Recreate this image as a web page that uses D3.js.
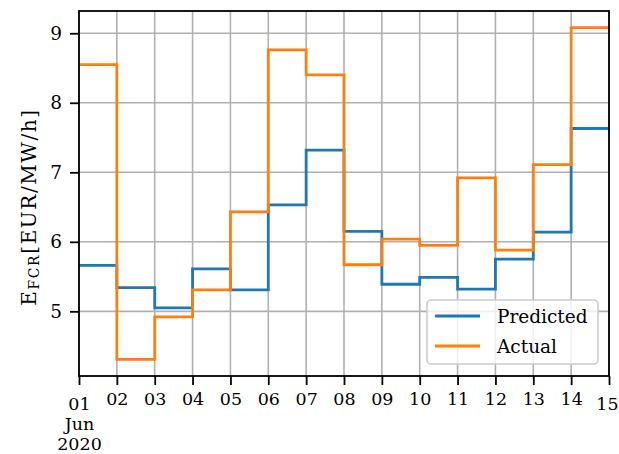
<!DOCTYPE html>
<html>
<head>
<meta charset="utf-8">
<script src="https://cdn.jsdelivr.net/npm/d3@7"></script>
<style>
  html, body { margin: 0; padding: 0; background: #fff; }
  svg { display: block; }
  text { font-family: "DejaVu Serif", "Liberation Serif", serif; fill: #000; }
</style>
</head>
<body>
<svg id="chart" width="619" height="454"></svg>
<script>
// Daily FCR energy prices, 1–14 June 2020 (one value per day, held until the next day)
const days = ["2020-06-01","2020-06-02","2020-06-03","2020-06-04","2020-06-05","2020-06-06","2020-06-07",
              "2020-06-08","2020-06-09","2020-06-10","2020-06-11","2020-06-12","2020-06-13","2020-06-14"];
const predicted = [5.66, 5.34, 5.05, 5.61, 5.31, 6.53, 7.32, 6.15, 5.39, 5.49, 5.32, 5.75, 6.14, 7.63];
const actual    = [8.55, 4.31, 4.92, 5.31, 6.43, 8.76, 8.40, 5.67, 6.04, 5.95, 6.92, 5.88, 7.11, 9.08];
const yTicks = [5, 6, 7, 8, 9];
const xTickLabels = ["01","02","03","04","05","06","07","08","09","10","11","12","13","14","15"];
const seriesNames = ["Predicted", "Actual"];
const seriesColors = ["#1f77b4", "#ff7f0e"];

const parse = d3.utcParse("%Y-%m-%d");
const dates = days.map(parse);
const endDate = d3.utcDay.offset(dates[dates.length - 1], 1);

const m = { left: 79, right: 609, top: 11, bottom: 376 };
const svg = d3.select("#chart");

const x = d3.scaleUtc().domain([dates[0], endDate]).range([m.left, m.right]);
const y = d3.scaleLinear().domain([4.07, 9.32]).range([m.bottom, m.top]);

const xTickDates = d3.utcDay.range(dates[0], d3.utcDay.offset(endDate, 1));

// grid
const grid = svg.append("g").attr("stroke", "#b0b0b0").attr("stroke-width", 1.6);
grid.selectAll("line.vx").data(xTickDates).join("line")
  .attr("x1", d => x(d)).attr("x2", d => x(d)).attr("y1", m.top).attr("y2", m.bottom);
grid.selectAll("line.hy").data(yTicks).join("line")
  .attr("x1", m.left).attr("x2", m.right).attr("y1", d => y(d)).attr("y2", d => y(d));

// step lines
const line = d3.line().x(d => x(d[0])).y(d => y(d[1])).curve(d3.curveStepAfter);
[predicted, actual].forEach((vals, i) => {
  const pts = dates.map((d, k) => [d, vals[k]]);
  pts.push([endDate, vals[vals.length - 1]]);
  svg.append("path").datum(pts)
    .attr("d", line)
    .attr("fill", "none")
    .attr("stroke", seriesColors[i])
    .attr("stroke-width", 2.8)
    .attr("stroke-linejoin", "miter")
    .attr("stroke-linecap", "butt");
});

// frame
svg.append("rect")
  .attr("x", m.left).attr("y", m.top)
  .attr("width", m.right - m.left).attr("height", m.bottom - m.top)
  .attr("fill", "none").attr("stroke", "#000").attr("stroke-width", 1.8);

// y axis
const yAxis = d3.axisLeft(y).tickValues(yTicks).tickSize(9).tickPadding(8).tickFormat(d3.format("d"));
const gy = svg.append("g").attr("transform", `translate(${m.left},0)`).call(yAxis);
gy.select(".domain").remove();
gy.selectAll(".tick line").attr("stroke", "#000").attr("stroke-width", 1.8);
gy.selectAll(".tick text").attr("font-size", 18.5).attr("font-family", "DejaVu Serif");

// x axis
const lastIdx = xTickDates.length - 1;
const xAxis = d3.axisBottom(x).tickValues(xTickDates).tickSize(9).tickFormat((d, i) => xTickLabels[i]);
const gx = svg.append("g").attr("transform", `translate(0,${m.bottom})`).call(xAxis);
gx.select(".domain").remove();
gx.selectAll(".tick line").attr("stroke", "#000").attr("stroke-width", 1.8);
gx.selectAll(".tick text")
  .attr("font-size", 17.5).attr("font-family", "DejaVu Serif")
  .attr("dy", null)
  .attr("x", (d, i) => i === lastIdx ? -2 : 0)
  .attr("y", (d, i) => (i === 0 || i === lastIdx) ? 34 : 29);
// month / year offset under the first tick
const first = gx.select(".tick");
first.append("text").attr("y", 54).attr("text-anchor", "middle")
  .attr("font-size", 17.5).attr("font-family", "DejaVu Serif").attr("fill", "#000").text("Jun");
first.append("text").attr("y", 74).attr("text-anchor", "middle")
  .attr("font-size", 17.5).attr("font-family", "DejaVu Serif").attr("fill", "#000").text("2020");

// y label
const yl = svg.append("text")
  .attr("transform", "translate(36,207) rotate(-90)")
  .attr("text-anchor", "middle")
  .attr("letter-spacing", 1.6)
  .attr("font-size", 20);
yl.append("tspan").text("E");
yl.append("tspan").attr("font-size", 14).attr("dy", 3).text("FCR");
yl.append("tspan").attr("dy", -3).text("[EUR/MW/h]");

// legend
const lg = svg.append("g");
lg.append("rect")
  .attr("x", 427).attr("y", 300).attr("width", 171).attr("height", 64)
  .attr("rx", 4).attr("fill", "#fff").attr("fill-opacity", 0.8)
  .attr("stroke", "#cccccc").attr("stroke-width", 1.6);
seriesNames.forEach((name, i) => {
  const cy = 316 + i * 30;
  lg.append("line").attr("x1", 435).attr("x2", 480).attr("y1", cy).attr("y2", cy)
    .attr("stroke", seriesColors[i]).attr("stroke-width", 2.8);
  lg.append("text").attr("x", 497).attr("y", cy + 7).attr("font-size", 18.5).text(name);
});
</script>
</body>
</html>
